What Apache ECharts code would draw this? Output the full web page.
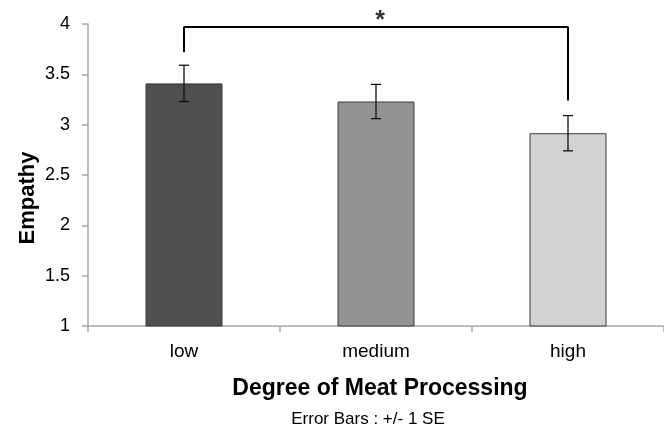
<!DOCTYPE html>
<html>
<head>
<meta charset="utf-8">
<script src="https://cdn.jsdelivr.net/npm/echarts@6/dist/echarts.min.js"></script>
<style>html,body{margin:0;padding:0;background:#fff}#c{width:664px;height:427px}</style>
</head>
<body>
<div id="c"></div>
<script>
var categories = ['low', 'medium', 'high'];
var means = [3.41, 3.23, 2.915];
var errors = [0.18, 0.17, 0.175];
var barColors = ['#4f4f4f', '#939393', '#d2d2d2'];
var bracket = [[0, 3.72], [0, 3.97], [2, 3.97], [2, 3.24]];
var starPoint = [[1, 3.97]];
var yTicks = {min: 1, max: 4, interval: 0.5};

var chart = echarts.init(document.getElementById('c'));
var font = 'Liberation Sans, Arial, sans-serif';
chart.setOption({
  animation: false,
  grid: {left: 88, top: 24, width: 579, height: 302, containLabel: false},
  xAxis: {
    type: 'category',
    data: categories,
    axisLine: {lineStyle: {color: '#a6a6a6', width: 1.5}},
    axisTick: {show: true, alignWithLabel: false, length: 6, lineStyle: {color: '#a6a6a6', width: 1.5}},
    axisLabel: {color: '#000', fontSize: 19, fontFamily: font, margin: 16}
  },
  yAxis: {
    type: 'value',
    min: yTicks.min, max: yTicks.max, interval: yTicks.interval,
    axisLine: {show: true, lineStyle: {color: '#a6a6a6', width: 1.5}},
    axisTick: {show: true, length: 6, lineStyle: {color: '#a6a6a6', width: 1.5}},
    splitLine: {show: false},
    axisLabel: {color: '#000', fontSize: 18, fontFamily: font, margin: 18}
  },
  graphic: [
    {
      type: 'text', x: 28, y: 198, rotation: Math.PI / 2,
      style: {text: 'Empathy', fill: '#000', fontSize: 22, fontWeight: 'bold', fontFamily: font,
        align: 'center', verticalAlign: 'middle'}
    },
    {
      type: 'text', x: 380, y: 389,
      style: {text: 'Degree of Meat Processing', fill: '#000', fontSize: 23, fontWeight: 'bold', fontFamily: font,
        align: 'center', verticalAlign: 'middle'}
    },
    {
      type: 'text', x: 368, y: 419,
      style: {text: 'Error Bars : +/- 1 SE', fill: '#000', fontSize: 17, fontFamily: font,
        align: 'center', verticalAlign: 'middle'}
    }
  ],
  series: [
    {
      type: 'bar',
      barWidth: 77,
      data: means.map(function (v, i) {
        return {value: v, itemStyle: {color: barColors[i], borderColor: '#3a3a3a', borderWidth: 1}};
      }),
      z: 2
    },
    {
      type: 'custom',
      z: 3,
      data: means.map(function (v, i) { return [i, v - errors[i], v + errors[i]]; }),
      renderItem: function (params, api) {
        var lo = api.coord([api.value(0), api.value(1)]);
        var hi = api.coord([api.value(0), api.value(2)]);
        var w = 5;
        var s = {stroke: '#111', lineWidth: 1.3};
        return {type: 'group', children: [
          {type: 'line', shape: {x1: hi[0], y1: hi[1], x2: lo[0], y2: lo[1]}, style: s},
          {type: 'line', shape: {x1: hi[0] - w, y1: hi[1], x2: hi[0] + w, y2: hi[1]}, style: s},
          {type: 'line', shape: {x1: lo[0] - w, y1: lo[1], x2: lo[0] + w, y2: lo[1]}, style: s}
        ]};
      }
    },
    {
      type: 'line',
      data: bracket,
      symbol: 'none',
      lineStyle: {color: '#000', width: 2},
      z: 4
    },
    {
      type: 'scatter',
      data: starPoint,
      symbolSize: 1,
      itemStyle: {color: 'rgba(0,0,0,0)'},
      label: {show: true, formatter: '*', position: 'top', distance: -2, offset: [4, 5], color: '#000', fontSize: 25, fontWeight: 'bold', fontFamily: font},
      z: 5
    }
  ]
});
</script>
</body>
</html>
